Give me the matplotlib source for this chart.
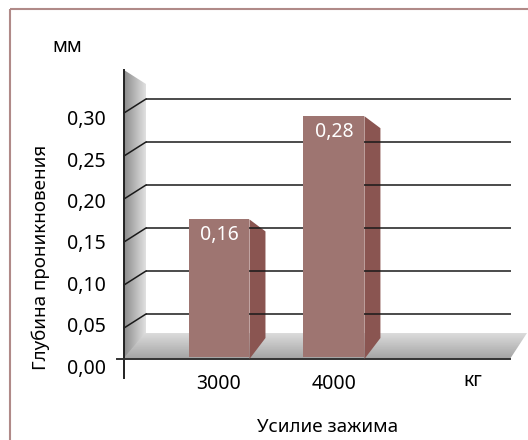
import matplotlib
matplotlib.use("Agg")
import matplotlib.pyplot as plt
import numpy as np
from matplotlib.patches import Polygon, Rectangle

plt.rcParams['font.family'] = ['Noto Sans', 'DejaVu Sans']

# data
categories = ['3000', '4000']
values = [0.16, 0.28]
value_labels = ['0,16', '0,28']
yticks = [0.00, 0.05, 0.10, 0.15, 0.20, 0.25, 0.30]
ytick_labels = ['0,00', '0,05', '0,10', '0,15', '0,20', '0,25', '0,30']

W, H = 528, 440
fig = plt.figure(figsize=(W / 100, H / 100), dpi=100)
fig.patch.set_facecolor('white')

# background axes in pixel coords (y down) for walls / floor / frame
bg = fig.add_axes([0, 0, 1, 1])
bg.set_xlim(0, W)
bg.set_ylim(H, 0)
bg.axis('off')

# main data axes = back wall plane
ax = fig.add_axes([146 / W, (H - 357) / H, (511 - 146) / W, 301 / H])
ax.set_xlim(-0.635, 2.54)
ax.set_ylim(0, 0.35)
ax.patch.set_alpha(0)
for s in ax.spines.values():
    s.set_visible(False)
ax.set_yticks([])


def to_bg(x, y):
    p = ax.transData.transform((x, y))
    return bg.transData.inverted().transform(p)


# frame
bg.add_patch(Rectangle((10, 9), 530, 440, fill=False, ec='#b08a88', lw=1.5))

# side wall with gradient
wall = Polygon([(124, 70), (146, 84), (146, 333), (124, 359)], closed=True,
               fc='none', ec='none')
bg.add_patch(wall)
grad = np.linspace(0.55, 0.88, 64).reshape(1, -1)
im = bg.imshow(grad, cmap='gray', vmin=0, vmax=1, extent=[124, 146, 359, 70],
               aspect='auto', zorder=1)
im.set_clip_path(wall)

# floor with gradient
floor = Polygon([(145, 333), (527, 333), (510, 359), (123, 359)], closed=True,
                fc='none', ec='none')
bg.add_patch(floor)
fgrad = np.linspace(0.86, 0.64, 64).reshape(-1, 1)
im2 = bg.imshow(fgrad, cmap='gray', vmin=0, vmax=1, extent=[123, 527, 359, 333],
                aspect='auto', zorder=1)
im2.set_clip_path(floor)

# gridlines on back wall and their slanted part on the side wall
for t in yticks[1:]:
    ax.hlines(t, -0.635, 2.54, color='#1a1a1a', lw=1.1, zorder=2)
    bx, by = to_bg(-0.635, t)
    bg.plot([bx, bx - 22], [by, by + 14], color='#1a1a1a', lw=1.1, zorder=2)

# axis lines
bg.plot([124, 124], [70, 378], color='#222222', lw=1.4, zorder=3)
bg.plot([117, 510], [359, 359], color='#333333', lw=1.4, zorder=3)

# bars
x = np.arange(len(categories))
bw = 0.53
ax.bar(x, values, width=bw, color='#9e7571', zorder=4)
for xi, v, lab in zip(x, values, value_labels):
    tx, ty = to_bg(xi + bw / 2, v)
    _, by0 = to_bg(xi + bw / 2, 0)
    side = Polygon([(tx, ty), (tx + 16, ty + 12), (tx + 16, by0 - 19), (tx, by0 + 2)],
                   closed=True, fc='#8a5551', ec='none', zorder=4)
    bg.add_patch(side)
    ax.annotate(lab, (xi, v), xytext=(0, -4), textcoords='offset points',
                ha='center', va='top', color='white', fontsize=14, zorder=5)

# x tick labels
ax.set_xticks(x)
ax.set_xticklabels(categories, fontsize=14)
ax.tick_params(axis='x', length=0, pad=12)
ax.annotate('кг', (2.21, 0), xytext=(0, -10), textcoords='offset points',
            ha='center', va='top', fontsize=14)

# y tick labels on a helper axes (front plane)
lab_ax = fig.add_axes([124 / W, (H - 366) / H, 0.001, (366 - 118) / H])
lab_ax.set_ylim(0, 0.30)
lab_ax.set_yticks(yticks)
lab_ax.set_yticklabels(ytick_labels, fontsize=14)
lab_ax.tick_params(axis='y', length=0, pad=13)
lab_ax.set_xticks([])
lab_ax.patch.set_alpha(0)
for s in lab_ax.spines.values():
    s.set_visible(False)

# titles
fig.text(67 / W, 1 - 47 / H, 'мм', ha='center', va='center', fontsize=14)
fig.text(41 / W, 1 - 257 / H, 'Глубина проникновения', rotation=90,
         ha='center', va='center', fontsize=13.5)
fig.text(328 / W, 1 - 427 / H, 'Усилие зажима', ha='center', va='center',
         fontsize=13.5)

fig.savefig('out.png', dpi=100)
